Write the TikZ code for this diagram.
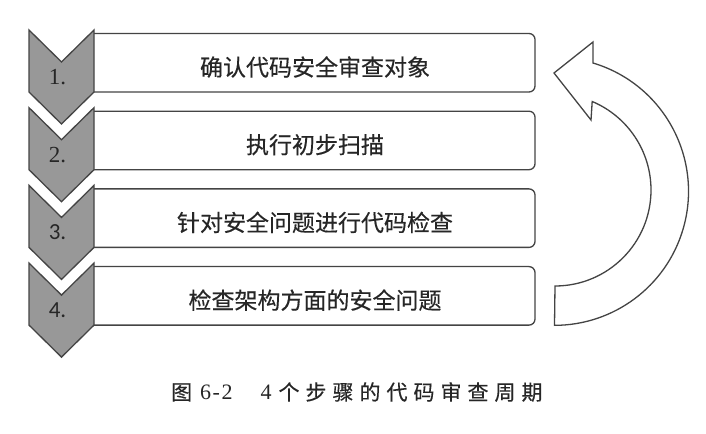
\documentclass[tikz,border=0pt]{standalone}
\usepackage{fontspec}
\setmainfont{Liberation Serif}
\newfontfamily\cjk[FakeBold=0.35]{Noto Sans CJK SC}
\newfontfamily\numsans{Carlito}
\definecolor{chev}{HTML}{989898}
\definecolor{edge}{HTML}{444444}
\definecolor{ink}{HTML}{262626}
\newcommand\capgap{\hspace{6bp}}
\begin{document}
\begin{tikzpicture}[x=1bp,y=-1bp,
  chevshape/.style={fill=chev,draw=edge,line width=1.3bp,line join=miter},
  stepframe/.style={draw=edge,line width=1.3bp,rounded corners=6bp},
  stepbox/.style={inner sep=0pt,outer sep=0pt},
  steptext/.style={font=\cjk\fontsize{23bp}{27bp}\selectfont,text=ink,inner sep=0pt},
  numtext/.style={font=\fontsize{23bp}{27bp}\selectfont,text=ink,inner sep=0pt},
  cyclearrow/.style={draw=edge,line width=1.3bp,fill=white,line join=miter},
  captext/.style={font=\fontsize{22bp}{26bp}\selectfont,text=ink,inner sep=0pt}]
\useasboundingbox (0,0) rectangle (706,434);
\fill[white] (0,0) rectangle (706,434);
\foreach \k/\txt/\nf in {1/确认代码安全审查对象/\rmfamily,
                         2/执行初步扫描/\rmfamily,
                         3/针对安全问题进行代码检查/\numsans,
                         4/检查架构方面的安全问题/\numsans}{
  \pgfmathsetmacro\yz{30+77.7*(\k-1)}
  \node[stepbox,anchor=north west,minimum width=441bp,minimum height=58.5bp] (box\k) at (94,\yz+3.5) {};
  \draw[stepframe] (box\k.north west) -- (box\k.north east) -- (box\k.south east) -- (box\k.south west);
  \node[steptext] (txt\k) at (315,\yz+37) {\txt};
  \draw[chevshape] (29,\yz) -- (61.5,\yz+32) -- (94,\yz) -- (94,\yz+62)
        -- (61.5,\yz+94) -- (29,\yz+62) -- cycle;
  \node[numtext] (num\k) at (57.5,\yz+47) {\nf\k.};
}
\draw[cyclearrow] (555,286) arc[start angle=90, end angle=-67.2, radius=96]
   -- (591,120) -- (554,73) -- (593,42) -- (593,63)
   arc[start angle=-73.3, end angle=90, radius=134] -- cycle;
\node[captext,anchor=west] (caption) at (171,392)
  {{\cjk\fontsize{21bp}{26bp}\selectfont 图}\hspace{8bp}6\hspace{1.5bp}-\hspace{1.5bp}2\hspace{28bp}4\hspace{7bp}{\cjk\fontsize{21bp}{26bp}\selectfont 个\capgap 步\capgap 骤\capgap 的\capgap 代\capgap 码\capgap 审\capgap 查\capgap 周\capgap 期}};
\end{tikzpicture}
\end{document}
